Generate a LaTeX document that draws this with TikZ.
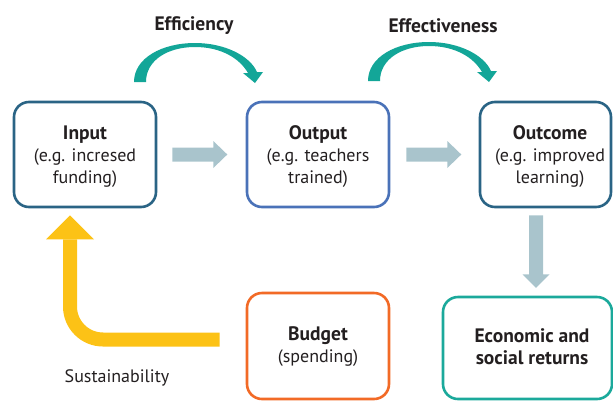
\documentclass[tikz,border=0pt]{standalone}
\usepackage{fontspec}
\setmainfont{PT Sans}
\usetikzlibrary{calc}
\definecolor{txt}{HTML}{231F20}
\definecolor{inblue}{HTML}{2A6485}
\definecolor{outblue}{HTML}{4A72B8}
\definecolor{bud}{HTML}{F26A26}
\definecolor{eco}{HTML}{1BA99B}
\definecolor{arcteal}{HTML}{13A698}
\definecolor{arrgray}{HTML}{A9C4CC}
\definecolor{yel}{HTML}{FCC216}
\newcommand\bt[1]{{\fontsize{19.5}{22}\selectfont\bfseries #1}}
\begin{document}
\begin{tikzpicture}[x=1pt,y=-1pt,
  box/.style={draw, line width=2.6pt, rounded corners=15pt, inner sep=0pt, align=center, text=txt,
    font=\fontsize{18}{22}\selectfont},
  lbl/.style={text=txt, inner sep=0pt, align=center, font=\fontsize{18}{22}\selectfont},
  arrowfill/.style={fill=arrgray},
  arcfill/.style={fill=arcteal}]
\useasboundingbox (0,0) rectangle (613,400);
\clip (0,0) rectangle (613,400);
% boxes
\node[box, draw=inblue, minimum width=142pt, minimum height=105pt] (in) at (85,154.5) {};
\node[lbl] (intext) at (85,157) {\bt{Input}\\(e.g. incresed\\funding)};
\node[box, draw=outblue, minimum width=142pt, minimum height=105pt] (out) at (318,154.5) {};
\node[lbl] (outtext) at (318,157) {\bt{Output}\\(e.g. teachers\\trained)};
\node[box, draw=inblue, minimum width=131pt, minimum height=105pt] (oc) at (545.5,154.5) {};
\node[lbl] (octext) at (550,157) {\bt{Outcome}\\(e.g. improved\\learning)};
\node[box, draw=bud, minimum width=142pt, minimum height=106pt] (bud) at (318,346) {};
\node[lbl] (budtext) at (318,347) {\bt{Budget}\\(spending)};
\node[box, draw=eco, minimum width=169pt, minimum height=102pt] (eco) at (527.5,348) {};
\node[lbl] (ecotext) at (532,346.5) {\bt{Economic and}\\\bt{social returns}};
% labels
\node[lbl] (eff) at (194,26) {\bt{Efficiency}};
\node[lbl] (effv) at (443,26) {\bt{Effectiveness}};
\node[lbl] (sus) at (117,378) {Sustainability};
% gray arrows
\fill[arrowfill] ($(in.east)+(15,-7)$) -- ++(41,0) -- ++(0,-6.5) -- ++(14,13.5) -- ++(-14,13.5)
  -- ++(0,-6.5) -- ++(-41,0) -- cycle;
\fill[arrowfill] ($(out.east)+(16,-7)$) -- ++(41,0) -- ++(0,-6.5) -- ++(14,13.5) -- ++(-14,13.5)
  -- ++(0,-6.5) -- ++(-41,0) -- cycle;
\fill[arrowfill] ($(oc.south)+(-16.5,7)$) -- ++(14,0) -- ++(0,59) -- ++(6.5,0) -- ++(-13.5,13.5)
  -- ++(-13.5,-13.5) -- ++(6.5,0) -- cycle;
% yellow arrow
\draw[yel, line width=14pt, rounded corners=33pt] ($(bud.west)+(-26,-6.5)$) -| ($(in.south)+(-15,31)$);
\fill[yel] ($(in.south)+(-15,7)$) -- ++(24,24) -- ++(-48,0) -- cycle;
% teal arcs
\fill[arcfill] (134,82) .. controls (134,58) and (162,43) .. (195,43)
  .. controls (225,43) and (250,56) .. (257,72) -- (263,72) -- (255,83) -- (243,73) -- (248,73)
  .. controls (240,59) and (222,47) .. (195,47) .. controls (168,47) and (146,60) .. (146,82) -- cycle;
\begin{scope}[shift={(234,-1)}]
\fill[arcfill] (134,82) .. controls (134,58) and (162,43) .. (195,43)
  .. controls (225,43) and (250,56) .. (257,72) -- (263,72) -- (255,83) -- (243,73) -- (248,73)
  .. controls (240,59) and (222,47) .. (195,47) .. controls (168,47) and (146,60) .. (146,82) -- cycle;
\end{scope}
\end{tikzpicture}
\end{document}
